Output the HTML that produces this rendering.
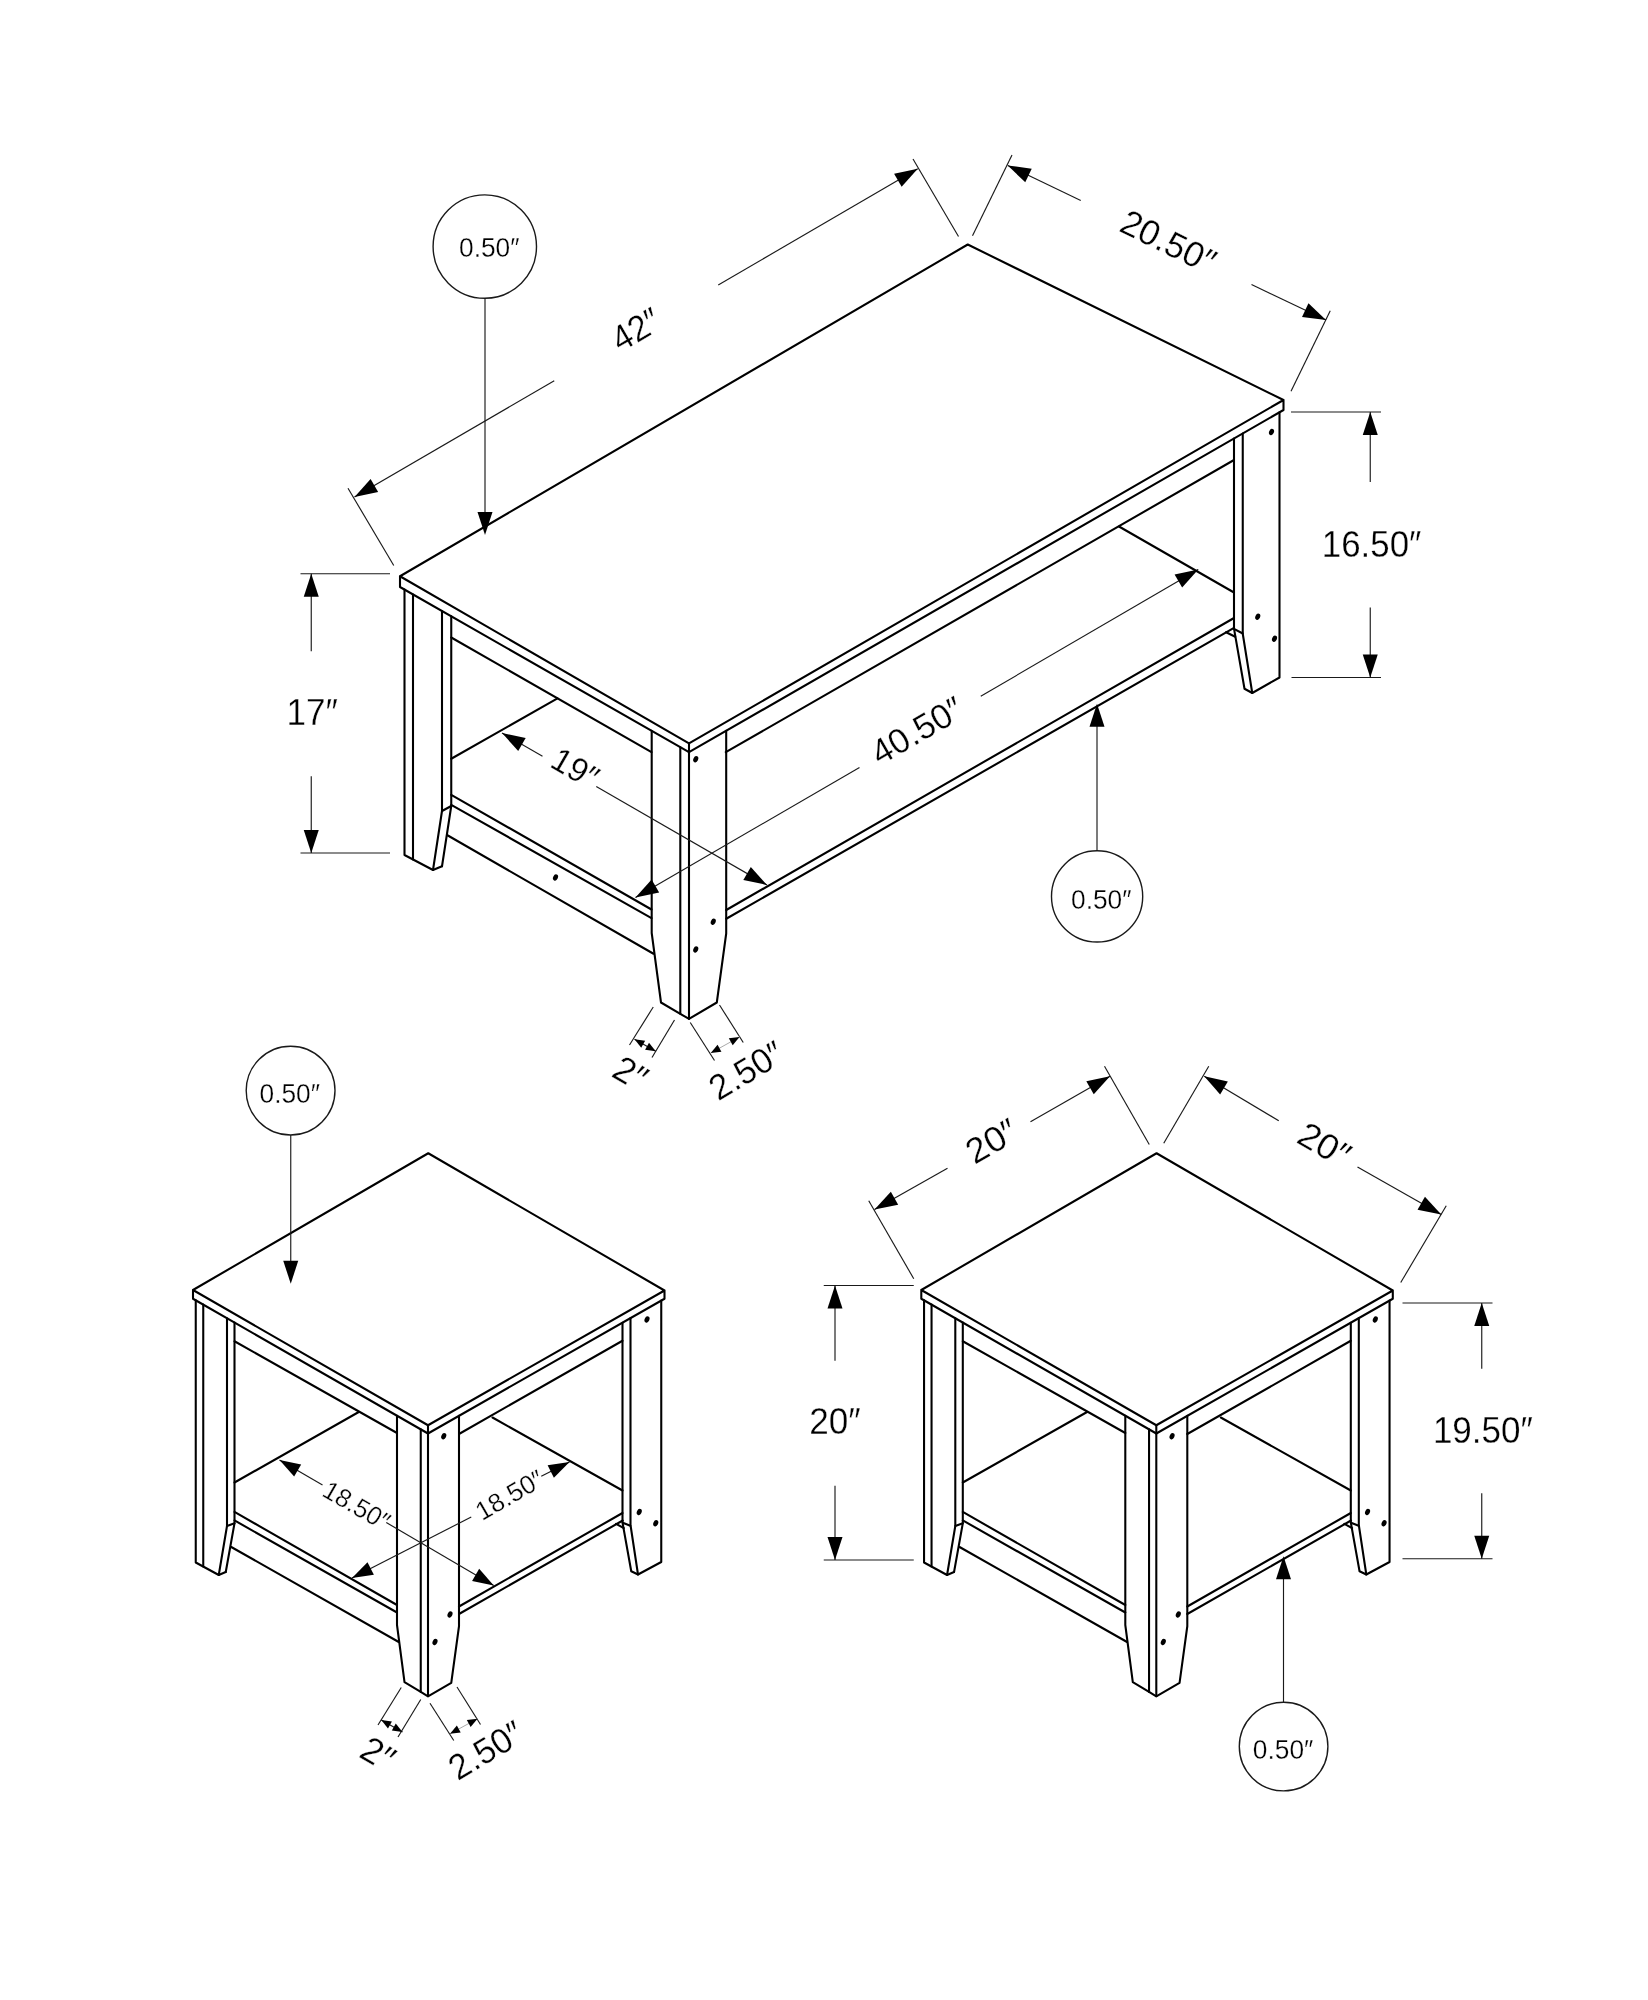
<!DOCTYPE html>
<html><head><meta charset="utf-8"><title>Dimensions</title>
<style>
html,body{margin:0;padding:0;background:#fff;}
body{width:1648px;height:2000px;overflow:hidden;}
svg{display:block;filter:grayscale(1);}
.k{fill:none;stroke:#000;stroke-width:2.08;stroke-linejoin:round;stroke-linecap:round;}
.t{stroke:#1a1a1a;stroke-width:1.15;}
text{font-family:"Liberation Sans",sans-serif;fill:#000;stroke:#fff;stroke-width:.3px;}
</style></head><body>
<svg width="1648" height="2000" viewBox="0 0 1648 2000">
<rect width="1648" height="2000" fill="#fff"/>
<path class="k" d="M400.00 576.25 L967.75 244.50 L1283.50 400.00 L689.00 743.40 L400.00 576.25 L400.00 587.00 L689.00 752.20 L1283.50 410.00 L1283.50 400.00"/>
<path class="k" d="M689.00 743.40 L689.00 752.20"/>
<path class="k" d="M404.50 589.57 L404.50 855.00 L433.00 870.00 L442.00 866.25"/>
<path class="k" d="M413.00 594.43 L413.00 859.50"/>
<path class="k" d="M442.00 611.01 L442.00 811.00 L433.00 870.00"/>
<path class="k" d="M451.25 616.30 L451.25 806.00 L442.00 866.25"/>
<path class="k" d="M442.00 811.00 L451.25 806.00"/>
<path class="k" d="M451.25 637.50 L651.50 752.20"/>
<path class="k" d="M451.25 758.75 L557.50 698.40"/>
<path class="k" d="M451.25 794.80 L651.50 909.50"/>
<path class="k" d="M451.25 804.80 L651.50 918.20"/>
<path class="k" d="M447.00 835.00 L653.50 953.75"/>
<path class="k" d="M651.70 730.88 L651.70 933.00 L661.00 1002.50 L680.30 1013.80 L689.00 1018.90 L716.80 1002.50 L726.20 933.50 L726.20 730.79"/>
<path class="k" d="M680.30 747.23 L680.30 1013.80"/>
<path class="k" d="M689.00 752.20 L689.00 1018.90"/>
<path class="k" d="M725.80 752.20 L1234.00 460.00"/>
<path class="k" d="M726.25 910.00 L1234.00 618.00"/>
<path class="k" d="M726.25 918.75 L1234.00 627.90"/>
<path class="k" d="M1226.10 632.20 L1235.20 636.80"/>
<path class="k" d="M1234.00 438.49 L1234.00 628.60 L1244.50 688.75 L1252.25 693.00 L1279.50 677.50 L1279.50 412.30"/>
<path class="k" d="M1242.75 433.46 L1242.75 633.75 L1252.25 693.00"/>
<path class="k" d="M1234.00 628.80 L1242.75 633.50"/>
<path class="k" d="M1119.00 526.50 L1234.00 592.50"/>
<ellipse cx="1271.50" cy="432.00" rx="2.35" ry="3.2" transform="rotate(25 1271.50 432.00)" fill="#000"/>
<ellipse cx="1257.75" cy="616.75" rx="2.35" ry="3.2" transform="rotate(25 1257.75 616.75)" fill="#000"/>
<ellipse cx="1274.50" cy="638.75" rx="2.35" ry="3.2" transform="rotate(25 1274.50 638.75)" fill="#000"/>
<ellipse cx="695.75" cy="759.25" rx="2.35" ry="3.2" transform="rotate(25 695.75 759.25)" fill="#000"/>
<ellipse cx="713.25" cy="921.75" rx="2.35" ry="3.2" transform="rotate(25 713.25 921.75)" fill="#000"/>
<ellipse cx="695.75" cy="949.50" rx="2.35" ry="3.2" transform="rotate(25 695.75 949.50)" fill="#000"/>
<ellipse cx="555.50" cy="877.50" rx="2.35" ry="3.2" transform="rotate(25 555.50 877.50)" fill="#000"/>
<line class="t" x1="348.00" y1="488.25" x2="393.75" y2="565.50"/>
<line class="t" x1="913.00" y1="159.00" x2="958.50" y2="236.50"/>
<line class="t" x1="354.50" y1="497.00" x2="554.25" y2="380.75"/>
<polygon fill="#000" points="354.50,497.00 370.61,478.95 378.15,491.91"/>
<line class="t" x1="917.75" y1="168.75" x2="718.25" y2="285.00"/>
<polygon fill="#000" points="917.75,168.75 901.65,186.81 894.10,173.85"/>
<text transform="translate(635.50 329.00) rotate(-30)" x="0" y="12.89" font-size="36" text-anchor="middle" textLength="50.0" lengthAdjust="spacingAndGlyphs">42″</text>
<line class="t" x1="1012.00" y1="155.00" x2="972.50" y2="235.75"/>
<line class="t" x1="1330.25" y1="310.75" x2="1291.00" y2="391.25"/>
<line class="t" x1="1007.75" y1="165.50" x2="1080.75" y2="200.50"/>
<polygon fill="#000" points="1007.75,165.50 1031.73,168.68 1025.25,182.21"/>
<line class="t" x1="1326.00" y1="320.00" x2="1251.50" y2="284.50"/>
<polygon fill="#000" points="1326.00,320.00 1302.01,316.88 1308.46,303.34"/>
<text transform="translate(1168.60 241.30) rotate(26)" x="0" y="12.71" font-size="35.5" text-anchor="middle" textLength="101.0" lengthAdjust="spacingAndGlyphs">20.50″</text>
<line class="t" x1="1291.00" y1="412.00" x2="1381.00" y2="412.00"/>
<line class="t" x1="1291.50" y1="677.50" x2="1381.00" y2="677.50"/>
<line class="t" x1="1370.25" y1="412.00" x2="1370.25" y2="482.00"/>
<polygon fill="#000" points="1370.25,412.00 1377.75,435.00 1362.75,435.00"/>
<line class="t" x1="1370.25" y1="677.50" x2="1370.25" y2="607.50"/>
<polygon fill="#000" points="1370.25,677.50 1362.75,654.50 1377.75,654.50"/>
<text transform="translate(1371.60 543.80) rotate(0)" x="0" y="12.89" font-size="36" text-anchor="middle" textLength="99.5" lengthAdjust="spacingAndGlyphs">16.50″</text>
<line class="t" x1="300.50" y1="573.75" x2="390.00" y2="573.75"/>
<line class="t" x1="300.50" y1="853.00" x2="390.00" y2="853.00"/>
<line class="t" x1="311.25" y1="573.75" x2="311.25" y2="651.25"/>
<polygon fill="#000" points="311.25,573.75 318.75,596.75 303.75,596.75"/>
<line class="t" x1="311.25" y1="853.00" x2="311.25" y2="776.25"/>
<polygon fill="#000" points="311.25,853.00 303.75,830.00 318.75,830.00"/>
<text transform="translate(312.20 712.50) rotate(0)" x="0" y="12.89" font-size="36" text-anchor="middle" textLength="51.4" lengthAdjust="spacingAndGlyphs">17″</text>
<line class="t" x1="502.00" y1="733.00" x2="542.50" y2="756.25"/>
<polygon fill="#000" points="502.00,733.00 525.68,737.95 518.21,750.96"/>
<line class="t" x1="767.00" y1="885.00" x2="596.25" y2="786.50"/>
<polygon fill="#000" points="767.00,885.00 743.33,880.00 750.82,867.01"/>
<text transform="translate(575.50 767.80) rotate(30)" x="0" y="11.99" font-size="33.5" text-anchor="middle" textLength="48.5" lengthAdjust="spacingAndGlyphs">19″</text>
<line class="t" x1="635.50" y1="897.50" x2="859.50" y2="767.50"/>
<polygon fill="#000" points="635.50,897.50 651.63,879.47 659.16,892.44"/>
<line class="t" x1="1198.25" y1="569.50" x2="980.75" y2="696.25"/>
<polygon fill="#000" points="1198.25,569.50 1182.15,587.56 1174.60,574.60"/>
<text transform="translate(916.80 730.10) rotate(-30)" x="0" y="12.53" font-size="35" text-anchor="middle" textLength="100.0" lengthAdjust="spacingAndGlyphs">40.50″</text>
<circle class="t" style="stroke-width:1.4" cx="484.80" cy="246.60" r="51.70" fill="none"/>
<line class="t" x1="485.00" y1="298.60" x2="485.00" y2="520.00"/>
<polygon fill="#000" points="485.00,535.00 477.50,512.00 492.50,512.00"/>
<text transform="translate(489.30 246.80) rotate(0)" x="0" y="10.20" font-size="28.5" text-anchor="middle" textLength="60.5" lengthAdjust="spacingAndGlyphs">0.50″</text>
<circle class="t" style="stroke-width:1.4" cx="1097.10" cy="896.40" r="45.60" fill="none"/>
<line class="t" x1="1097.00" y1="850.80" x2="1097.00" y2="720.00"/>
<polygon fill="#000" points="1097.00,703.75 1104.50,726.75 1089.50,726.75"/>
<text transform="translate(1101.25 899.10) rotate(0)" x="0" y="10.20" font-size="28.5" text-anchor="middle" textLength="60.5" lengthAdjust="spacingAndGlyphs">0.50″</text>
<line class="t" x1="653.25" y1="1007.00" x2="629.50" y2="1045.00"/>
<line class="t" x1="674.50" y1="1020.00" x2="652.00" y2="1057.50"/>
<line class="t" x1="634.50" y1="1039.25" x2="655.75" y2="1051.25"/>
<polygon fill="#000" points="634.50,1039.25 645.17,1040.68 641.24,1047.65"/>
<polygon fill="#000" points="655.75,1051.25 645.08,1049.82 649.01,1042.85"/>
<text transform="translate(630.75 1072.80) rotate(30)" x="0" y="12.89" font-size="36" text-anchor="middle" textLength="33.0" lengthAdjust="spacingAndGlyphs">2″</text>
<line class="t" x1="690.25" y1="1022.50" x2="714.50" y2="1060.50"/>
<line class="t" x1="719.50" y1="1005.00" x2="743.25" y2="1042.50"/>
<line stroke="#aaa" stroke-width="1" x1="710.75" y1="1053" x2="739.5" y2="1037"/>
<polygon fill="#000" points="710.75,1053.00 717.54,1044.64 721.43,1051.63"/>
<polygon fill="#000" points="739.50,1037.00 732.71,1045.36 728.82,1038.37"/>
<text transform="translate(746.10 1070.00) rotate(-31)" x="0" y="12.71" font-size="35.5" text-anchor="middle" textLength="80.0" lengthAdjust="spacingAndGlyphs">2.50″</text>
<path class="k" d="M193.00 1290.00 L428.25 1153.25 L664.50 1290.50 L428.00 1425.25 L193.00 1290.00 L193.00 1298.75 L428.00 1433.50 L664.50 1298.75 L664.50 1290.50"/>
<path class="k" d="M428.00 1425.25 L428.00 1433.50"/>
<path class="k" d="M195.75 1300.33 L195.75 1562.50 L218.75 1575.00 L225.75 1572.00"/>
<path class="k" d="M203.25 1304.63 L203.25 1566.50"/>
<path class="k" d="M227.00 1318.25 L227.00 1526.00 L218.75 1575.00"/>
<path class="k" d="M234.50 1322.55 L234.50 1523.30 L225.75 1572.00"/>
<path class="k" d="M227.00 1526.00 L234.50 1523.30"/>
<path class="k" d="M234.50 1341.25 L397.00 1433.00"/>
<path class="k" d="M234.50 1482.50 L358.75 1412.00"/>
<path class="k" d="M234.50 1511.90 L397.00 1605.00"/>
<path class="k" d="M234.50 1520.40 L397.00 1612.50"/>
<path class="k" d="M231.25 1547.00 L398.75 1642.00"/>
<path class="k" d="M397.00 1415.72 L397.00 1625.00 L404.50 1682.20 L420.75 1691.90 L428.00 1696.30 L451.25 1682.80 L459.00 1626.25 L459.00 1415.84"/>
<path class="k" d="M420.75 1429.34 L420.75 1691.90"/>
<path class="k" d="M428.00 1433.50 L428.00 1696.30"/>
<path class="k" d="M459.00 1434.00 L622.50 1340.75"/>
<path class="k" d="M459.00 1606.50 L622.50 1513.00"/>
<path class="k" d="M459.00 1614.00 L622.75 1520.50"/>
<path class="k" d="M616.10 1523.80 L623.80 1528.10"/>
<path class="k" d="M622.50 1322.68 L622.50 1522.50 L631.25 1571.25 L638.00 1574.50 L661.25 1562.00 L661.25 1300.60"/>
<path class="k" d="M630.50 1318.12 L630.50 1525.00 L638.00 1574.50"/>
<path class="k" d="M622.75 1522.70 L630.30 1525.80"/>
<path class="k" d="M492.50 1417.50 L622.50 1490.50"/>
<ellipse cx="443.75" cy="1436.25" rx="2.35" ry="3.2" transform="rotate(25 443.75 1436.25)" fill="#000"/>
<ellipse cx="450.00" cy="1614.50" rx="2.35" ry="3.2" transform="rotate(25 450.00 1614.50)" fill="#000"/>
<ellipse cx="435.00" cy="1642.00" rx="2.35" ry="3.2" transform="rotate(25 435.00 1642.00)" fill="#000"/>
<ellipse cx="647.00" cy="1319.50" rx="2.35" ry="3.2" transform="rotate(25 647.00 1319.50)" fill="#000"/>
<ellipse cx="639.25" cy="1512.00" rx="2.35" ry="3.2" transform="rotate(25 639.25 1512.00)" fill="#000"/>
<ellipse cx="655.75" cy="1523.25" rx="2.35" ry="3.2" transform="rotate(25 655.75 1523.25)" fill="#000"/>
<path class="k" d="M921.30 1290.00 L1156.55 1153.25 L1392.80 1290.50 L1156.30 1425.25 L921.30 1290.00 L921.30 1298.75 L1156.30 1433.50 L1392.80 1298.75 L1392.80 1290.50"/>
<path class="k" d="M1156.30 1425.25 L1156.30 1433.50"/>
<path class="k" d="M924.05 1300.33 L924.05 1562.50 L947.05 1575.00 L954.05 1572.00"/>
<path class="k" d="M931.55 1304.63 L931.55 1566.50"/>
<path class="k" d="M955.30 1318.25 L955.30 1526.00 L947.05 1575.00"/>
<path class="k" d="M962.80 1322.55 L962.80 1523.30 L954.05 1572.00"/>
<path class="k" d="M955.30 1526.00 L962.80 1523.30"/>
<path class="k" d="M962.80 1341.25 L1125.30 1433.00"/>
<path class="k" d="M962.80 1482.50 L1087.05 1412.00"/>
<path class="k" d="M962.80 1511.90 L1125.30 1605.00"/>
<path class="k" d="M962.80 1520.40 L1125.30 1612.50"/>
<path class="k" d="M959.55 1547.00 L1127.05 1642.00"/>
<path class="k" d="M1125.30 1415.72 L1125.30 1625.00 L1132.80 1682.20 L1149.05 1691.90 L1156.30 1696.30 L1179.55 1682.80 L1187.30 1626.25 L1187.30 1415.84"/>
<path class="k" d="M1149.05 1429.34 L1149.05 1691.90"/>
<path class="k" d="M1156.30 1433.50 L1156.30 1696.30"/>
<path class="k" d="M1187.30 1434.00 L1350.80 1340.75"/>
<path class="k" d="M1187.30 1606.50 L1350.80 1513.00"/>
<path class="k" d="M1187.30 1614.00 L1351.05 1520.50"/>
<path class="k" d="M1344.40 1523.80 L1352.10 1528.10"/>
<path class="k" d="M1350.80 1322.68 L1350.80 1522.50 L1359.55 1571.25 L1366.30 1574.50 L1389.55 1562.00 L1389.55 1300.60"/>
<path class="k" d="M1358.80 1318.12 L1358.80 1525.00 L1366.30 1574.50"/>
<path class="k" d="M1351.05 1522.70 L1358.60 1525.80"/>
<path class="k" d="M1220.80 1417.50 L1350.80 1490.50"/>
<ellipse cx="1172.05" cy="1436.25" rx="2.35" ry="3.2" transform="rotate(25 1172.05 1436.25)" fill="#000"/>
<ellipse cx="1178.30" cy="1614.50" rx="2.35" ry="3.2" transform="rotate(25 1178.30 1614.50)" fill="#000"/>
<ellipse cx="1163.30" cy="1642.00" rx="2.35" ry="3.2" transform="rotate(25 1163.30 1642.00)" fill="#000"/>
<ellipse cx="1375.30" cy="1319.50" rx="2.35" ry="3.2" transform="rotate(25 1375.30 1319.50)" fill="#000"/>
<ellipse cx="1367.55" cy="1512.00" rx="2.35" ry="3.2" transform="rotate(25 1367.55 1512.00)" fill="#000"/>
<ellipse cx="1384.05" cy="1523.25" rx="2.35" ry="3.2" transform="rotate(25 1384.05 1523.25)" fill="#000"/>
<circle class="t" style="stroke-width:1.4" cx="290.60" cy="1090.60" r="44.40" fill="none"/>
<line class="t" x1="290.75" y1="1135.00" x2="290.75" y2="1265.00"/>
<polygon fill="#000" points="290.75,1283.75 283.25,1260.75 298.25,1260.75"/>
<text transform="translate(289.75 1092.30) rotate(0)" x="0" y="10.20" font-size="28.5" text-anchor="middle" textLength="60.5" lengthAdjust="spacingAndGlyphs">0.50″</text>
<line class="t" x1="279.50" y1="1460.00" x2="322.50" y2="1485.00"/>
<polygon fill="#000" points="279.50,1460.00 301.17,1464.50 294.14,1476.61"/>
<line class="t" x1="493.75" y1="1585.50" x2="386.25" y2="1522.50"/>
<polygon fill="#000" points="493.75,1585.50 472.09,1580.92 479.17,1568.84"/>
<text transform="translate(356.75 1505.20) rotate(30)" x="0" y="9.31" font-size="26" text-anchor="middle" textLength="72.5" lengthAdjust="spacingAndGlyphs">18.50″</text>
<line class="t" x1="352.00" y1="1578.00" x2="471.25" y2="1517.00"/>
<polygon fill="#000" points="352.00,1578.00 367.51,1562.20 373.88,1574.67"/>
<line class="t" x1="569.50" y1="1462.00" x2="541.25" y2="1476.25"/>
<polygon fill="#000" points="569.50,1462.00 553.90,1477.71 547.60,1465.21"/>
<text transform="translate(509.50 1494.75) rotate(-30)" x="0" y="9.31" font-size="26" text-anchor="middle" textLength="74.0" lengthAdjust="spacingAndGlyphs">18.50″</text>
<line class="t" x1="401.25" y1="1687.50" x2="378.00" y2="1725.00"/>
<line class="t" x1="420.75" y1="1699.50" x2="398.00" y2="1737.00"/>
<line class="t" x1="381.25" y1="1720.00" x2="402.50" y2="1732.00"/>
<polygon fill="#000" points="381.25,1720.00 391.92,1721.43 387.99,1728.40"/>
<polygon fill="#000" points="402.50,1732.00 391.83,1730.57 395.76,1723.60"/>
<text transform="translate(378.25 1753.40) rotate(30)" x="0" y="12.89" font-size="36" text-anchor="middle" textLength="33.0" lengthAdjust="spacingAndGlyphs">2″</text>
<line class="t" x1="430.00" y1="1703.25" x2="453.75" y2="1740.50"/>
<line class="t" x1="457.00" y1="1687.00" x2="480.50" y2="1724.50"/>
<line stroke="#aaa" stroke-width="1" x1="450" y1="1733.75" x2="477.5" y2="1718.75"/>
<polygon fill="#000" points="450.00,1733.75 456.86,1725.45 460.69,1732.47"/>
<polygon fill="#000" points="477.50,1718.75 470.64,1727.05 466.81,1720.03"/>
<text transform="translate(485.60 1749.80) rotate(-31)" x="0" y="12.71" font-size="35.5" text-anchor="middle" textLength="80.0" lengthAdjust="spacingAndGlyphs">2.50″</text>
<line class="t" x1="868.75" y1="1200.75" x2="913.75" y2="1278.75"/>
<line class="t" x1="1104.50" y1="1066.25" x2="1149.25" y2="1144.50"/>
<line class="t" x1="874.50" y1="1209.50" x2="947.50" y2="1168.25"/>
<polygon fill="#000" points="874.50,1209.50 890.83,1191.66 898.21,1204.71"/>
<line class="t" x1="1110.00" y1="1076.25" x2="1030.50" y2="1121.75"/>
<polygon fill="#000" points="1110.00,1076.25 1093.76,1094.18 1086.31,1081.17"/>
<text transform="translate(991.40 1140.60) rotate(-30)" x="0" y="12.71" font-size="35.5" text-anchor="middle" textLength="53.5" lengthAdjust="spacingAndGlyphs">20″</text>
<line class="t" x1="1208.75" y1="1066.25" x2="1163.75" y2="1143.25"/>
<line class="t" x1="1446.25" y1="1205.75" x2="1400.75" y2="1282.50"/>
<line class="t" x1="1204.25" y1="1076.25" x2="1278.75" y2="1120.75"/>
<polygon fill="#000" points="1204.25,1076.25 1227.84,1081.61 1220.15,1094.48"/>
<line class="t" x1="1441.25" y1="1214.50" x2="1357.50" y2="1167.00"/>
<polygon fill="#000" points="1441.25,1214.50 1417.54,1209.68 1424.94,1196.63"/>
<text transform="translate(1324.70 1144.20) rotate(30)" x="0" y="12.71" font-size="35.5" text-anchor="middle" textLength="54.0" lengthAdjust="spacingAndGlyphs">20″</text>
<line class="t" x1="823.75" y1="1285.50" x2="913.75" y2="1285.50"/>
<line class="t" x1="823.75" y1="1560.00" x2="913.75" y2="1560.00"/>
<line class="t" x1="835.00" y1="1285.50" x2="835.00" y2="1360.75"/>
<polygon fill="#000" points="835.00,1285.50 842.50,1308.50 827.50,1308.50"/>
<line class="t" x1="835.00" y1="1560.00" x2="835.00" y2="1485.75"/>
<polygon fill="#000" points="835.00,1560.00 827.50,1537.00 842.50,1537.00"/>
<text transform="translate(835.00 1420.86) rotate(0)" x="0" y="12.89" font-size="36" text-anchor="middle" textLength="51.5" lengthAdjust="spacingAndGlyphs">20″</text>
<line class="t" x1="1402.50" y1="1303.00" x2="1492.50" y2="1303.00"/>
<line class="t" x1="1402.50" y1="1558.75" x2="1492.50" y2="1558.75"/>
<line class="t" x1="1481.75" y1="1303.00" x2="1481.75" y2="1368.75"/>
<polygon fill="#000" points="1481.75,1303.00 1489.25,1326.00 1474.25,1326.00"/>
<line class="t" x1="1481.75" y1="1558.75" x2="1481.75" y2="1493.25"/>
<polygon fill="#000" points="1481.75,1558.75 1474.25,1535.75 1489.25,1535.75"/>
<text transform="translate(1482.90 1430.40) rotate(0)" x="0" y="12.89" font-size="36" text-anchor="middle" textLength="100.0" lengthAdjust="spacingAndGlyphs">19.50″</text>
<circle class="t" style="stroke-width:1.4" cx="1283.60" cy="1746.60" r="44.30" fill="none"/>
<line class="t" x1="1283.50" y1="1702.50" x2="1283.50" y2="1575.00"/>
<polygon fill="#000" points="1283.50,1556.25 1291.00,1579.25 1276.00,1579.25"/>
<text transform="translate(1283.10 1749.10) rotate(0)" x="0" y="10.20" font-size="28.5" text-anchor="middle" textLength="60.5" lengthAdjust="spacingAndGlyphs">0.50″</text>
</svg>
</body></html>
